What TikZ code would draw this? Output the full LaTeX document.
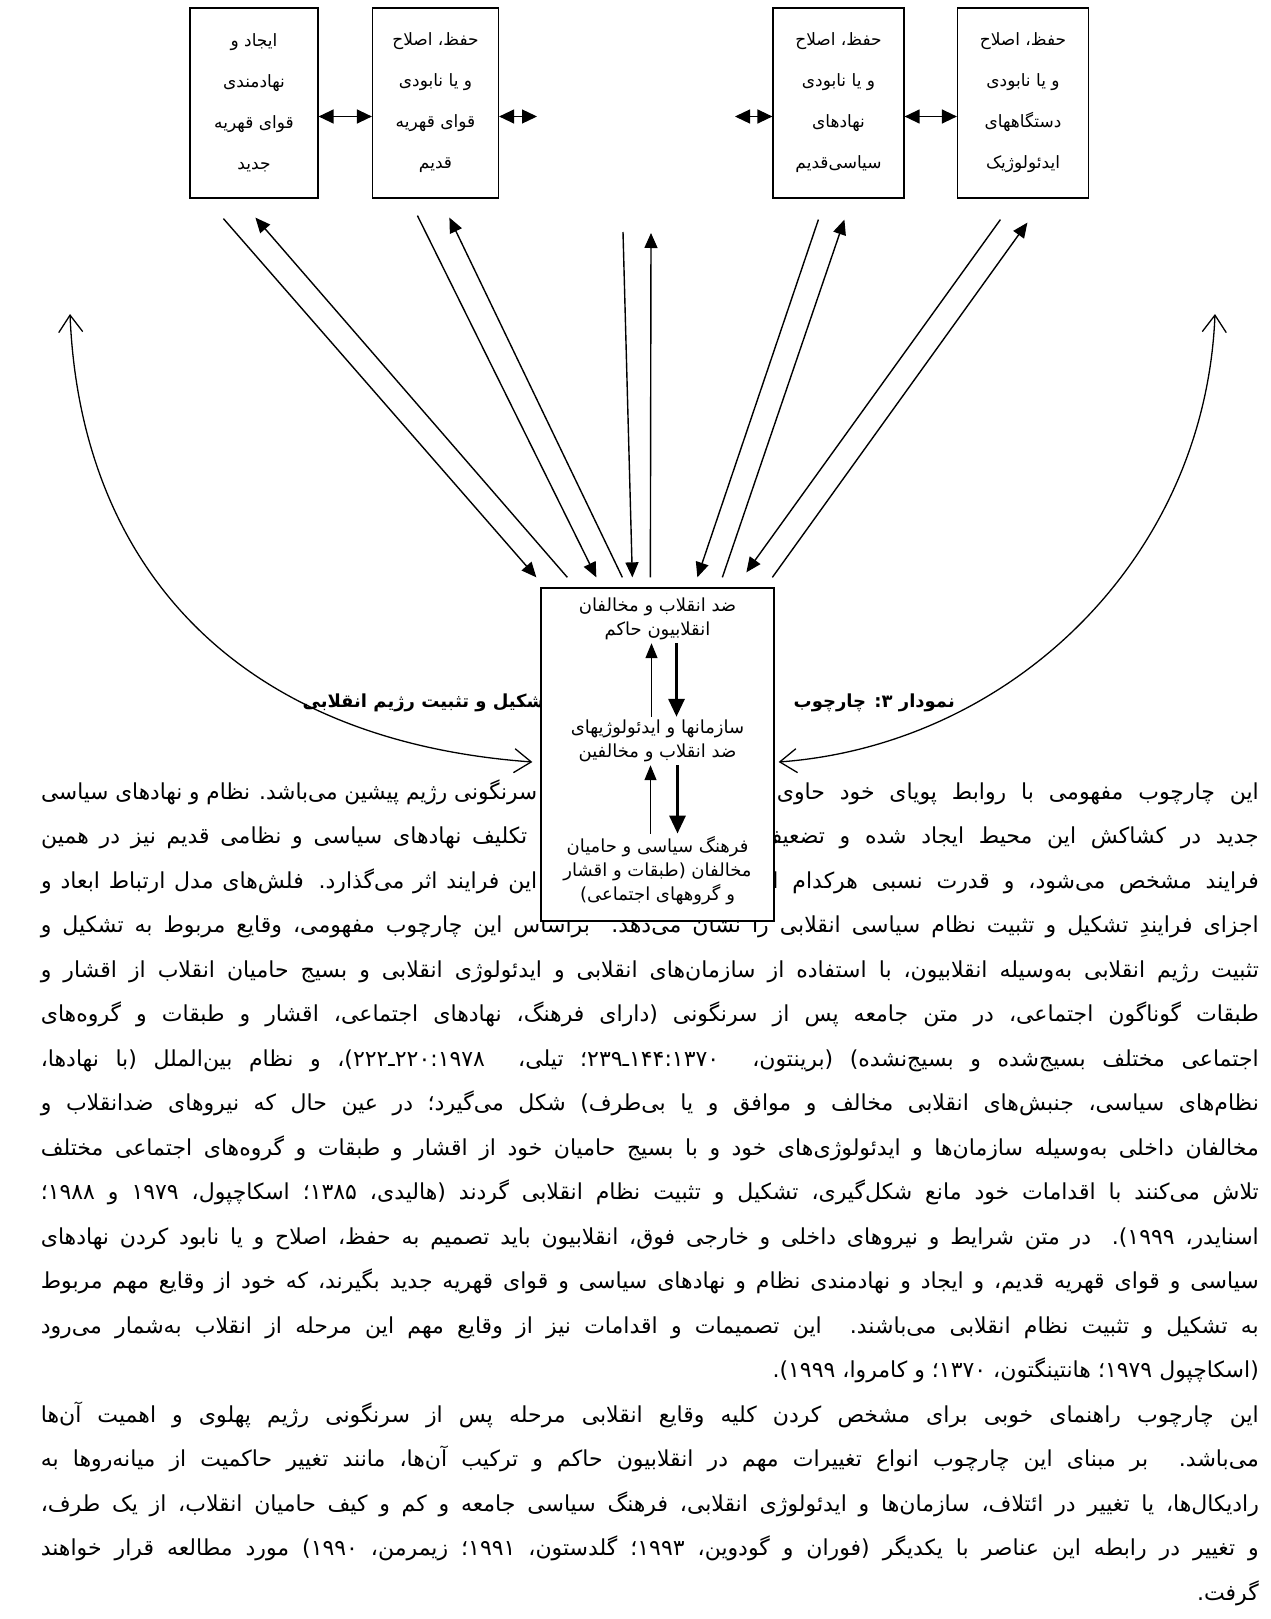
\documentclass[tikz,border=0pt]{standalone}
\usepackage{fontspec}
\usepackage{graphicx}
\usetikzlibrary{arrows.meta}
\newfontfamily\farsi[Script=Arabic]{DejaVu Sans}
\TeXXeTstate=1
\hbadness=10000
\hfuzz=3pt

\newcommand\kz{\kern0pt}
% blocksatz-zeile: breite, text
\newcommand\zeile[2]{%
  \setbox0=\hbox{\beginR#2\endR}%
  \ifdim\wd0>#1\relax
    \resizebox{#1}{\height}{\beginR#2\endR}%
  \else
    \hbox to #1{\beginR#2\endR}%
  \fi}

\tikzset{
  kasten/.style={draw, line width=1.2pt, minimum height=190pt, inner sep=0pt,
    align=center, font=\farsi\fontsize{17}{41}\selectfont},
  mitte/.style={draw, line width=1.3pt, fill=white, minimum width=233pt,
    minimum height=333pt},
  mtext/.style={align=center, inner sep=3pt, font=\farsi\fontsize{18}{24}\selectfont},
  satz/.style={inner sep=0pt, font=\farsi\fontsize{22}{26}\selectfont},
  titel/.style={inner sep=0pt, font=\farsi\bfseries\fontsize{18}{24}\selectfont},
  pfeil/.style={-{Triangle[length=15pt,width=13pt]}, line width=1.4pt},
  doppel/.style={{Triangle[length=15pt,width=14pt]}-{Triangle[length=15pt,width=14pt]}, line width=1.3pt},
  hoch/.style={-{Triangle[length=15pt,width=12pt]}, line width=1.3pt},
  runter/.style={-{Triangle[length=18pt,width=16pt]}, line width=3.2pt},
  bogen/.style={{Straight Barb[length=17pt,width=24pt]}-{Straight Barb[length=17pt,width=24pt]}, line width=1.3pt}
}

\begin{document}
\begin{tikzpicture}[x=1pt, y=-1pt]
  % hintergrund
  \fill[white] (0,0) rectangle (1270,1619);
  \useasboundingbox (0,0) rectangle (1270,1619);
  % obere kaesten
  \node[kasten, minimum width=128pt] (neu) at (254,103) {\beginR ایجاد و\endR\\\beginR نهادمندی\endR\\\beginR قوای قهریه\endR\\\beginR جدید\endR};
  \node[kasten, minimum width=126pt] (qalt) at (435.5,103) {\beginR حفظ، اصلاح\endR\\\beginR و یا نابودی\endR\\\beginR قوای قهریه\endR\\\beginR قدیم\endR};
  \node[kasten, minimum width=131pt] (nalt) at (838.5,103) {\beginR حفظ، اصلاح\endR\\\beginR و یا نابودی\endR\\\beginR نهادهای\endR\\\beginR سیاسی‌قدیم\endR};
  \node[kasten, minimum width=131pt] (ideo) at (1023,103) {\beginR حفظ، اصلاح\endR\\\beginR و یا نابودی\endR\\\beginR دستگاههای\endR\\\beginR ایدئولوژیک\endR};
  % pfeile zwischen den kaesten
  \coordinate (qr) at (537,116.5);
  \coordinate (nl) at (735,116.5);
  \draw[doppel] ([yshift=-13.5pt]neu.east) -- ([yshift=-13.5pt]qalt.west);
  \draw[doppel] ([yshift=-13.5pt]qalt.east) -- (qr);
  \draw[doppel] (nl) -- ([yshift=-13.5pt]nalt.west);
  \draw[doppel] ([yshift=-13.5pt]nalt.east) -- ([yshift=-13.5pt]ideo.west);

  % fliesstext
  \node[satz, anchor=base east] (z1r) at (1259,799) {\zeile{482pt}{این چارچوب مفهومی با روابط پویای خود حاوی}};
  \node[satz, anchor=base west] (z1l) at (41,799) {\zeile{496pt}{سرنگونی رژیم پیشین می‌باشد. نظام و نهادهای سیاسی}};
  \node[satz, anchor=base east] (z2r) at (1259,843.5) {\zeile{499pt}{جدید در کشاکش این محیط ایجاد شده و تضعیف}};
  \node[satz, anchor=base west] (z2l) at (41,843.5) {\zeile{486pt}{تکلیف نهادهای سیاسی و نظامی قدیم نیز در همین}};
  \node[satz, anchor=base east] (z3r) at (1259,888) {\zeile{497pt}{فرایند مشخص می‌شود، و قدرت نسبی هرکدام از}};
  \node[satz, anchor=base west] (z3l) at (41,888) {\zeile{496pt}{این فرایند اثر می‌گذارد. فلش‌های مدل ارتباط ابعاد و}};
  \node[satz, anchor=base east] (z4) at (1259,932.5) {\zeile{1218pt}{اجزای فرایندِ تشکیل و تثبیت نظام سیاسی انقلابی را نشان می‌دهد. براساس این چارچوب مفهومی، وقایع مربوط به تشکیل و}};
  \node[satz, anchor=base east] (z5) at (1259,977) {\zeile{1218pt}{تثبیت رژیم انقلابی به‌وسیله انقلابیون، با استفاده از سازمان‌های انقلابی و ایدئولوژی انقلابی و بسیج حامیان انقلاب از اقشار و}};
  \node[satz, anchor=base east] (z6) at (1259,1021.5) {\zeile{1218pt}{طبقات گوناگون اجتماعی، در متن جامعه پس از سرنگونی (دارای فرهنگ، نهادهای اجتماعی، اقشار و طبقات و گروه‌های}};
  \node[satz, anchor=base east] (z7) at (1259,1066) {\zeile{1218pt}{اجتماعی مختلف بسیج‌شده و بسیج‌نشده) (برینتون،~ ۱۳۷۰\kz{}:\kz{}۱۴۴\kz{}ـ\kz{}۲۳۹؛ تیلی،~ ۱۹۷۸\kz{}:\kz{}۲۲۰\kz{}ـ\kz{}۲۲۲)، و نظام بین‌الملل (با نهادها،}};
  \node[satz, anchor=base east] (z8) at (1259,1110.5) {\zeile{1218pt}{نظام‌های سیاسی، جنبش‌های انقلابی مخالف و موافق و یا بی‌طرف) شکل می‌گیرد؛ در عین حال که نیروهای ضدانقلاب و}};
  \node[satz, anchor=base east] (z9) at (1259,1155) {\zeile{1218pt}{مخالفان داخلی به‌وسیله سازمان‌ها و ایدئولوژی‌های خود و با بسیج حامیان خود از اقشار و طبقات و گروه‌های اجتماعی مختلف}};
  \node[satz, anchor=base east] (z10) at (1259,1199.5) {\zeile{1218pt}{تلاش می‌کنند با اقدامات خود مانع شکل‌گیری، تشکیل و تثبیت نظام انقلابی گردند (هالیدی، ۱۳۸۵؛ اسکاچپول، ۱۹۷۹ و ۱۹۸۸؛}};
  \node[satz, anchor=base east] (z11) at (1259,1244) {\zeile{1218pt}{اسنایدر، ۱۹۹۹). در متن شرایط و نیروهای داخلی و خارجی فوق، انقلابیون باید تصمیم به حفظ، اصلاح و یا نابود کردن نهادهای}};
  \node[satz, anchor=base east] (z12) at (1259,1288.5) {\zeile{1218pt}{سیاسی و قوای قهریه قدیم، و ایجاد و نهادمندی نظام و نهادهای سیاسی و قوای قهریه جدید بگیرند، که خود از وقایع مهم مربوط}};
  \node[satz, anchor=base east] (z13) at (1259,1333) {\zeile{1218pt}{به تشکیل و تثبیت نظام انقلابی می‌باشند. این تصمیمات و اقدامات نیز از وقایع مهم این مرحله از انقلاب به‌شمار می‌رود}};
  \node[satz, anchor=base east] (z14) at (1259,1377.5) {\beginR(اسکاچپول ۱۹۷۹؛ هانتینگتون، ۱۳۷۰؛ و کامروا، ۱۹۹۹).\endR};
  \node[satz, anchor=base east] (z15) at (1259,1422) {\zeile{1218pt}{این چارچوب راهنمای خوبی برای مشخص کردن کلیه وقایع انقلابی مرحله پس از سرنگونی رژیم پهلوی و اهمیت آن‌ها}};
  \node[satz, anchor=base east] (z16) at (1259,1466.5) {\zeile{1218pt}{می‌باشد. بر مبنای این چارچوب انواع تغییرات مهم در انقلابیون حاکم و ترکیب آن‌ها، مانند تغییر حاکمیت از میانه‌روها به}};
  \node[satz, anchor=base east] (z17) at (1259,1511) {\zeile{1218pt}{رادیکال‌ها، یا تغییر در ائتلاف، سازمان‌ها و ایدئولوژی انقلابی، فرهنگ سیاسی جامعه و کم و کیف حامیان انقلاب، از یک طرف،}};
  \node[satz, anchor=base east] (z18) at (1259,1555.5) {\zeile{1218pt}{و تغییر در رابطه این عناصر با یکدیگر (فوران و گودوین، ۱۹۹۳؛ گلدستون، ۱۹۹۱؛ زیمرمن، ۱۹۹۰) مورد مطالعه قرار خواهند}};
  \node[satz, anchor=base east] (z19) at (1259,1600) {\beginR گرفت.\endR};

  % ueberschrift
  \node[titel, anchor=base east] (cap1) at (955,707) {\beginR نمودار ۳: چارچوب\endR};
  \node[titel, anchor=base east] (cap2) at (552,707) {\beginR تشکیل و تثبیت رژیم انقلابی\endR};

  % mittlerer kasten
  \node[mitte] (mid) at (657.5,754.5) {};
  \node[mtext] (t1) at (657.5,619) {\beginR ضد انقلاب و مخالفان\endR\\\beginR انقلابیون حاکم\endR};
  \node[mtext] (t2) at (657.5,741) {\beginR سازمانها و ایدئولوژیهای\endR\\\beginR ضد انقلاب و مخالفین\endR};
  \node[mtext] (t3) at (657.5,871) {\beginR فرهنگ سیاسی و حامیان\endR\\\beginR مخالفان (طبقات و اقشار\endR\\\beginR و گروههای اجتماعی)\endR};
  \draw[hoch] ([xshift=-6pt]t2.north) -- ([xshift=-6pt]t1.south);
  \draw[runter] ([xshift=19pt]t1.south) -- ([xshift=19pt]t2.north);
  \draw[hoch] ([xshift=-7pt]t3.north) -- ([xshift=-7pt]t2.south);
  \draw[runter] ([xshift=20pt]t2.south) -- ([xshift=20pt]t3.north);

  % strahlen nach oben und unten
  \coordinate (c1) at (623,232);
  \coordinate (c2) at (651,233);
  \draw[pfeil] ([xshift=34pt,yshift=-20pt]neu.south west) -- ([xshift=-4pt,yshift=10pt]mid.north west);
  \draw[pfeil] ([xshift=27pt,yshift=10pt]mid.north west) -- ([xshift=66pt,yshift=-19pt]neu.south west);
  \draw[pfeil] ([xshift=45.5pt,yshift=-17pt]qalt.south west) -- ([xshift=56pt,yshift=10pt]mid.north west);
  \draw[pfeil] ([xshift=82pt,yshift=10pt]mid.north west) -- ([xshift=77.5pt,yshift=-19pt]qalt.south west);
  \draw[pfeil] (c1) -- ([xshift=92pt,yshift=10pt]mid.north west);
  \draw[pfeil] ([xshift=110pt,yshift=10pt]mid.north west) -- (c2);
  \draw[pfeil] ([xshift=46pt,yshift=-21pt]nalt.south west) -- ([xshift=157pt,yshift=10pt]mid.north west);
  \draw[pfeil] ([xshift=182pt,yshift=10pt]mid.north west) -- ([xshift=72pt,yshift=-21pt]nalt.south west);
  \draw[pfeil] ([xshift=43.5pt,yshift=-21pt]ideo.south west) -- ([xshift=206pt,yshift=15pt]mid.north west);
  \draw[pfeil] ([xshift=232pt,yshift=10pt]mid.north west) -- ([xshift=70.5pt,yshift=-24pt]ideo.south west);

  % seitliche boegen
  \coordinate (lo) at (70,314);
  \coordinate (ro) at (1215,314);
  \draw[bogen] (lo) .. controls (80,560) and (230,740) .. ([xshift=-8pt,yshift=-7.5pt]mid.west);
  \draw[bogen] (ro) .. controls (1205,560) and (1010,745) .. ([xshift=4pt,yshift=-7.5pt]mid.east);
\end{tikzpicture}
\end{document}
